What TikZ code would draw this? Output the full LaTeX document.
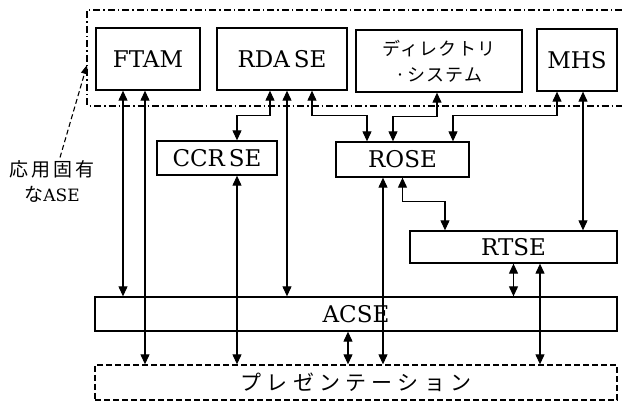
\documentclass[tikz,border=0pt]{standalone}
\usepackage{fontspec}
\setmainfont{DejaVu Serif}
\usetikzlibrary{arrows.meta}
\newfontfamily\jpdir[LetterSpace=7]{Noto Sans CJK JP}
\newfontfamily\jplab[LetterSpace=15]{Noto Sans CJK JP}
\newfontfamily\jppres[LetterSpace=25]{Noto Sans CJK JP}

\begin{document}
\begin{tikzpicture}[x=1pt,y=-1pt,
  blk/.style={draw, line width=1.3pt, minimum height=34pt, inner sep=0pt,
    font=\fontsize{23}{28}\selectfont},
  toprow/.style={blk, minimum height=62pt},
  link/.style={line width=1.1pt,
    {Triangle[length=10pt,width=9pt]}-{Triangle[length=10pt,width=9pt]}}]
  \useasboundingbox (0,0) rectangle (622,403);
  % application specific ASE
  \draw[line width=1.3pt, dash pattern=on 7pt off 3pt on 1.5pt off 3pt]
    (622,10) -| (87,106) -- (622,106);
  \coordinate (asel) at (87,65);
  \node[toprow, minimum width=104pt] (ftam) at (148,59) {FTAM};
  \node[toprow, minimum width=130pt] (rdase) at (282,59) {RDA\,SE};
  \node[toprow, minimum width=166pt, align=center,
    font={\jpdir\fontsize{18}{26}\selectfont}] (dir) at (439,61) {ディレクトリ\\·システム};
  \node[toprow, minimum width=80pt] (mhs) at (577,60) {MHS};
  % lower layers
  \node[blk, minimum width=120pt] (ccrse) at (217,158) {CCR\,SE};
  \node[blk, minimum width=133pt, minimum height=35pt] (rose) at (402.5,159.5) {ROSE};
  \node[blk, minimum width=207pt, minimum height=32pt] (rtse) at (513.5,247) {RTSE};
  \node[blk, minimum width=522pt] (acse) at (356,314) {ACSE};
  \node[blk, dash pattern=on 6pt off 3pt, minimum width=522pt, minimum height=35pt,
    font={\jppres\fontsize{21}{24}\selectfont}] (pres) at (356,382.5) {プレゼンテーション};
  % label
  \node[align=center, font={\jplab\fontsize{19}{25}\selectfont}] (aselab) at (52,182)
    {応用固有\\な{\rmfamily\fontsize{17}{25}\selectfont ASE}};
  \draw[line width=1.1pt, dash pattern=on 5pt off 3pt, -{Triangle[length=9pt,width=7pt]}]
    ([xshift=8pt]aselab.north) -- (asel);
  % FTAM
  \draw[link] ([xshift=-25pt]ftam.south) -- ([xshift=-25pt]ftam.south |- acse.north);
  \draw[link] ([xshift=-3pt]ftam.south) -- ([xshift=-3pt]ftam.south |- pres.north);
  % RDA SE
  \draw[link] ([xshift=-12pt]rdase.south) -- ++(0,25) -| ([xshift=20pt]ccrse.north);
  \draw[link] ([xshift=5pt]rdase.south) -- ([xshift=5pt]rdase.south |- acse.north);
  \draw[link] ([xshift=30pt]rdase.south) -- ++(0,25) -| ([xshift=-35.5pt]rose.north);
  % directory, MHS
  \draw[link] ([xshift=-2pt]dir.south) -- ++(0,24) -| ([xshift=-9.5pt]rose.north);
  \draw[link] ([xshift=-20pt]mhs.south) -- ++(0,24) -| ([xshift=50.5pt]rose.north);
  \draw[link] ([xshift=6pt]mhs.south) -- ([xshift=6pt]mhs.south |- rtse.north);
  % CCR SE, ROSE
  \draw[link] ([xshift=20pt]ccrse.south) -- ([xshift=20pt]ccrse.south |- pres.north);
  \draw[link] ([xshift=-19.5pt]rose.south) -- ([xshift=-19.5pt]rose.south |- pres.north);
  \draw[link] (rose.south) -- ++(0,24) -| ([xshift=-68.5pt]rtse.north);
  % RTSE, ACSE
  \draw[link] (rtse.south) -- (rtse.south |- acse.north);
  \draw[link] ([xshift=26.5pt]rtse.south) -- ([xshift=26.5pt]rtse.south |- pres.north);
  \draw[link] ([xshift=-8pt]acse.south) -- ([xshift=-8pt]acse.south |- pres.north);
\end{tikzpicture}
\end{document}
